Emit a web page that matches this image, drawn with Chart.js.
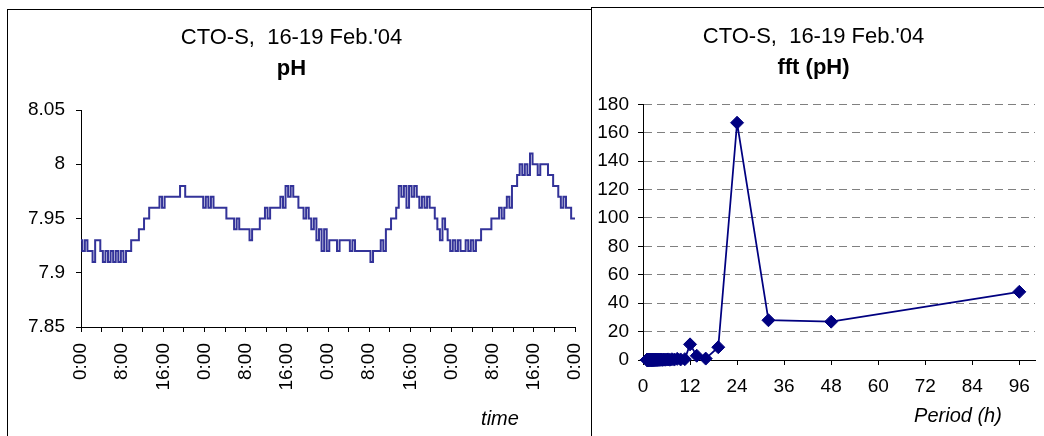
<!DOCTYPE html>
<html>
<head>
<meta charset="utf-8">
<script src="https://cdn.jsdelivr.net/npm/chart.js@4.4.1/dist/chart.umd.min.js"></script>
<style>
  html, body { margin: 0; padding: 0; background: #fff; overflow: hidden; width: 1044px; height: 436px; }
  .box { position: absolute; border: 1px solid #000; background: #fff; }
  .box canvas { display: block; }
  #boxL { left: 7px; top: 9px; width: 583px; height: 440px; }
  #boxR { left: 591px; top: 7px; width: 470px; height: 440px; }
  .cap { position: absolute; font: italic 20px "Liberation Sans", Arial, sans-serif; transform: translate(-50%, -50%); white-space: nowrap; }
</style>
</head>
<body>
<div class="box" id="boxL"><canvas id="phChart" width="583" height="426"></canvas></div>
<div class="box" id="boxR"><canvas id="fftChart" width="462" height="428"></canvas></div>
<div class="cap" style="left:500px; top:418px;">time</div>
<div class="cap" style="left:958px; top:415px;">Period (h)</div>
<script>
// pH readings, one every half hour, 16 Feb 0:00 -> 20 Feb 0:00 (8 values = 4 h per row)
const phStepHours = 0.5;
const phValues = [
  7.93, 7.92, 7.93, 7.92, 7.92, 7.91, 7.93, 7.93,
  7.92, 7.91, 7.92, 7.91, 7.92, 7.91, 7.92, 7.91,
  7.92, 7.91, 7.92, 7.92, 7.93, 7.93, 7.93, 7.94,
  7.94, 7.95, 7.95, 7.96, 7.96, 7.96, 7.96, 7.97,
  7.96, 7.97, 7.97, 7.97, 7.97, 7.97, 7.97, 7.98,
  7.98, 7.97, 7.97, 7.97, 7.97, 7.97, 7.97, 7.97,
  7.96, 7.97, 7.96, 7.97, 7.96, 7.96, 7.96, 7.96,
  7.96, 7.95, 7.95, 7.95, 7.94, 7.95, 7.94, 7.94,
  7.94, 7.94, 7.93, 7.94, 7.94, 7.94, 7.95, 7.95,
  7.96, 7.95, 7.96, 7.96, 7.96, 7.96, 7.97, 7.96,
  7.98, 7.97, 7.98, 7.97, 7.97, 7.96, 7.96, 7.95,
  7.96, 7.95, 7.94, 7.95, 7.93, 7.94, 7.92, 7.94,
  7.92, 7.93, 7.93, 7.93, 7.92, 7.93, 7.93, 7.93,
  7.93, 7.92, 7.93, 7.92, 7.92, 7.92, 7.92, 7.92,
  7.92, 7.91, 7.92, 7.92, 7.92, 7.93, 7.92, 7.94,
  7.94, 7.95, 7.95, 7.96, 7.98, 7.97, 7.98, 7.96,
  7.98, 7.97, 7.98, 7.97, 7.96, 7.97, 7.96, 7.97,
  7.96, 7.96, 7.95, 7.94, 7.93, 7.95, 7.94, 7.93,
  7.92, 7.93, 7.92, 7.93, 7.92, 7.92, 7.93, 7.92,
  7.93, 7.92, 7.93, 7.93, 7.94, 7.94, 7.94, 7.94,
  7.95, 7.95, 7.95, 7.96, 7.95, 7.96, 7.97, 7.96,
  7.98, 7.98, 7.99, 8.00, 7.99, 8.00, 7.99, 8.01,
  8.00, 8.00, 7.99, 8.00, 8.00, 8.00, 7.99, 7.99,
  7.98, 7.98, 7.97, 7.96, 7.97, 7.96, 7.96, 7.95,
  7.95
];
const timeTickHours = [0, 4, 8, 12, 16, 20, 24, 28, 32, 36, 40, 44, 48, 52, 56, 60, 64, 68, 72, 76, 80, 84, 88, 92, 96];
const phTicks = [7.85, 7.9, 7.95, 8, 8.05];

// fft of pH: period (h) and amplitude
const fftPeriods = [96, 48, 32, 24, 19.2, 16, 13.71, 12, 10.67, 9.6, 8.73, 8, 7.38, 6.86, 6.4, 6,
  5.65, 5.33, 5.05, 4.8, 4.57, 4.36, 4.17, 4, 3.84, 3.69, 3.56, 3.43, 3.31, 3.2, 3.1, 3,
  2.91, 2.82, 2.74, 2.67, 2.59, 2.53, 2.46, 2.4, 2.34, 2.29, 2.23, 2.18, 2.13, 2.09, 2.04, 2,
  1.92, 1.85, 1.78, 1.71, 1.66, 1.6, 1.55, 1.5, 1.45, 1.41, 1.37, 1.33, 1.3, 1.26, 1.23, 1.2,
  1.17, 1.14, 1.12, 1.09, 1.07, 1.04, 1.02, 1];
const fftValues = [48, 27, 28, 167, 9, 1, 3, 11, 0.6, 0.4, 0.8, 0.3, 0.5, 0.2, 0.4, 0.3,
  0.2, 0.3, 0.1, 0.2, 0.3, 0.1, 0.2, 0.2, 0.1, 0.1, 0.2, 0.1, 0.1, 0.1, 0.2, 0.1,
  0.1, 0.1, 0.1, 0.1, 0.1, 0.1, 0.1, 0.1, 0.1, 0.1, 0.1, 0.1, 0.1, 0.1, 0.1, 0.1,
  0.1, 0.1, 0.1, 0.1, 0.1, 0.1, 0.1, 0.1, 0.1, 0.1, 0.1, 0.1, 0.1, 0.1, 0.1, 0.1,
  0.1, 0.1, 0.1, 0.1, 0.1, 0.1, 0.1, 0.1];
const periodTicks = [0, 12, 24, 36, 48, 60, 72, 84, 96];
const fftTicks = [0, 20, 40, 60, 80, 100, 120, 140, 160, 180];

Chart.defaults.font.family = '"Liberation Sans", Arial, sans-serif';
Chart.defaults.color = '#000';

const noPad = (s) => { s.paddingLeft = 0; s.paddingRight = 0; s.paddingTop = 0; s.paddingBottom = 0; };

new Chart(document.getElementById('phChart'), {
  type: 'line',
  data: {
    datasets: [{
      data: phValues.map((v, i) => ({ x: i * phStepHours, y: v })),
      borderColor: '#333399',
      borderWidth: 2,
      pointRadius: 0,
      stepped: 'middle',
      fill: false
    }]
  },
  options: {
    responsive: false,
    animation: false,
    devicePixelRatio: 1,
    layout: { padding: { left: 0, right: 16, top: 0, bottom: 0 } },
    plugins: {
      legend: { display: false },
      tooltip: { enabled: false },
      title: {
        display: true, text: "CTO-S,  16-19 Feb.'04", color: '#000',
        font: { size: 22, weight: 'normal' }, padding: { top: 14.8, bottom: 0 }
      },
      subtitle: {
        display: true, text: 'pH', color: '#000',
        font: { size: 22, weight: 'bold' }, padding: { top: 4.6, bottom: 27.8 }
      }
    },
    scales: {
      x: {
        type: 'linear', min: 0, max: 96,
        afterBuildTicks: (s) => { s.ticks = timeTickHours.map(v => ({ value: v })); },
        afterFit: (s) => { s.height = 109; noPad(s); },
        grid: { drawOnChartArea: false, tickLength: 5, color: '#000' },
        border: { color: '#000' },
        ticks: {
          autoSkip: false, minRotation: 90, maxRotation: 90, padding: 11,
          font: { size: 19 },
          callback: (v) => (v % 8 === 0 ? (v % 24) + ':00' : '')
        }
      },
      y: {
        min: 7.85, max: 8.05,
        afterBuildTicks: (s) => { s.ticks = phTicks.map(v => ({ value: v })); },
        afterFit: (s) => { s.width = 73; noPad(s); },
        grid: { drawOnChartArea: false, tickLength: 5, color: '#000' },
        border: { color: '#000' },
        ticks: { padding: 11, font: { size: 19 }, callback: (v) => String(v) }
      }
    }
  }
});

new Chart(document.getElementById('fftChart'), {
  type: 'line',
  data: {
    datasets: [{
      data: fftPeriods.map((p, i) => ({ x: p, y: fftValues[i] })),
      borderColor: '#000080',
      borderWidth: 1.75,
      pointStyle: 'rectRot',
      pointRadius: 6.5,
      pointBackgroundColor: '#000080',
      pointBorderColor: '#000080',
      pointBorderWidth: 1,
      tension: 0,
      fill: false,
      clip: false
    }]
  },
  options: {
    responsive: false,
    animation: false,
    devicePixelRatio: 1,
    layout: { padding: { left: 0, right: 19, top: 0, bottom: 0 } },
    plugins: {
      legend: { display: false },
      tooltip: { enabled: false },
      title: {
        display: true, text: "CTO-S,  16-19 Feb.'04", color: '#000',
        font: { size: 22, weight: 'normal' }, padding: { top: 15.8, bottom: 0 }
      },
      subtitle: {
        display: true, text: 'fft (pH)', color: '#000',
        font: { size: 22, weight: 'bold' }, padding: { top: 4.6, bottom: 23.1 }
      }
    },
    scales: {
      x: {
        type: 'linear', min: 0, max: 100,
        afterBuildTicks: (s) => { s.ticks = periodTicks.map(v => ({ value: v })); },
        afterFit: (s) => { s.height = 76; noPad(s); },
        grid: { drawOnChartArea: false, tickLength: 5, color: '#000' },
        border: { color: '#000' },
        ticks: { autoSkip: false, maxRotation: 0, padding: 10, font: { size: 19 } }
      },
      y: {
        min: 0, max: 180,
        afterBuildTicks: (s) => { s.ticks = fftTicks.map(v => ({ value: v })); },
        afterFit: (s) => { s.width = 51; noPad(s); },
        grid: {
          tickLength: 5, tickColor: '#000',
          color: (c) => (c.tick && c.tick.value === 0 ? 'rgba(0,0,0,0)' : '#808080')
        },
        border: { color: '#000', dash: [8, 5] },
        ticks: { padding: 9, font: { size: 19 } }
      }
    }
  }
});
</script>
</body>
</html>
